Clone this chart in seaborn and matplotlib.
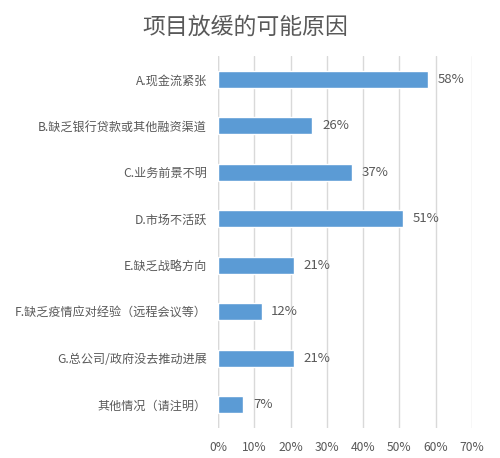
import matplotlib
matplotlib.use("Agg")
import matplotlib.pyplot as plt
import seaborn as sns
import pandas as pd
from matplotlib.ticker import PercentFormatter

categories = [
    "A.现金流紧张",
    "B.缺乏银行贷款或其他融资渠道",
    "C.业务前景不明",
    "D.市场不活跃",
    "E.缺乏战略方向",
    "F.缺乏疫情应对经验（远程会议等）",
    "G.总公司/政府没去推动进展",
    "其他情况（请注明）",
]
values = [0.58, 0.26, 0.37, 0.51, 0.21, 0.12, 0.21, 0.07]
value_labels = ["58%", "26%", "37%", "51%", "21%", "12%", "21%", "7%"]
xticks = [0, 0.1, 0.2, 0.3, 0.4, 0.5, 0.6, 0.7]

sns.set_style("white")
plt.rcParams["font.family"] = ["Noto Sans CJK SC", "DejaVu Sans"]

TXT = "#595959"
BAR = "#5B9BD5"
GRID = "#D9D9D9"

df = pd.DataFrame({"cat": categories, "val": values})

fig = plt.figure(figsize=(5.0, 4.58), dpi=100)
ax = fig.add_axes([0.436, 0.0655, 0.508, 0.8122])

sns.barplot(data=df, x="val", y="cat", orient="h", color=BAR, width=0.36,
            saturation=1, ax=ax, zorder=3)

ax.set_xlim(0, 0.7)
ax.set_ylim(7.5, -0.5)
ax.set_xticks(xticks)
ax.xaxis.set_major_formatter(PercentFormatter(1.0, decimals=0))
ax.grid(axis="x", color=GRID, linewidth=1, zorder=0)
ax.set_axisbelow(True)
for s in ax.spines.values():
    s.set_visible(False)
ax.axvline(0, color=GRID, linewidth=1, zorder=1)
ax.set_xlabel("")
ax.set_ylabel("")
ax.tick_params(axis="both", length=0, colors=TXT, labelsize=8.7)
ax.tick_params(axis="y", pad=8)
ax.tick_params(axis="x", pad=9)

for i, (v, lab) in enumerate(zip(values, value_labels)):
    ax.annotate(lab, xy=(v, i), xytext=(7, 0), textcoords="offset points",
                va="center", ha="left", fontsize=9.5, color=TXT)

fig.text(0.49, 1 - 27 / 458, "项目放缓的可能原因", ha="center", va="center",
         fontsize=16.5, color=TXT)

fig.savefig("out.png", dpi=100, facecolor="white")
